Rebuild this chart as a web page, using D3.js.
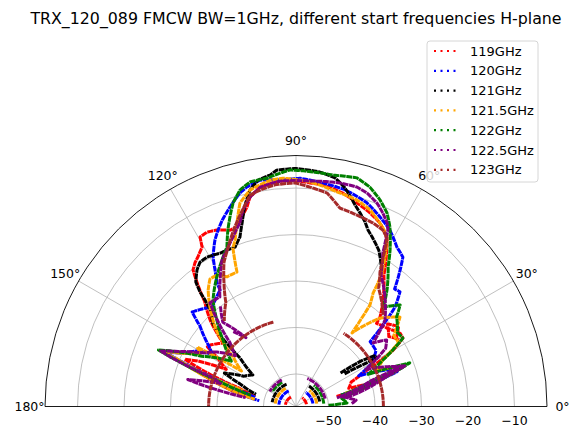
<!DOCTYPE html>
<html><head><meta charset="utf-8">
<script src="https://cdn.jsdelivr.net/npm/d3@7"></script>
<style>body{margin:0;background:#fff} svg{display:block} text{font-family:"DejaVu Sans",sans-serif;fill:#000}</style>
</head><body><svg id="c" width="569" height="427"></svg>
<script>
const chartTitle = "TRX_120_089 FMCW BW=1GHz, different start frequencies H-plane";
const seriesNames = ["119GHz","120GHz","121GHz","121.5GHz","122GHz","122.5GHz","123GHz"];
const seriesColors = ["#ff0000","#0000ff","#000000","#ffa500","#008000","#800080","#a52a2a"];
const angleTicks = [0,30,60,90,120,150,180];
const radialTicks = [-50,-40,-30,-20,-10];
const rDomain = [-57,-3];

// each series: list of segments of [angle deg, level dB]
const s119 = [
 [[14,-48],[15,-42],[17,-40],[19,-45],[24,-44],[27,-40],[30,-33],[32.6,-29.7],[35.1,-29.6],[40,-31],[45.9,-32.1],[46.8,-30.6],[56.2,-23],[61.3,-16.2],[62.8,-15.1],[65.4,-13.6],[69.1,-12.4],[73.3,-11.3],[77.6,-10.0],[83.0,-9.0],[86.4,-8.8],[91.5,-8.3],[95.3,-8.5],[99.3,-9.2],[102.4,-10.9],[103.8,-12.8],[105.9,-14.6],[108.2,-16.3],[110.5,-16.5],[114.1,-15.4],[117,-14.9],[119.5,-15.1],[120.5,-17.2],[123.2,-18.5],[125.1,-19.2],[127,-20.2],[127.9,-21.7],[131,-27],[135,-31],[139,-36.2],[144.4,-34.3],[146,-34],[148,-37],[152,-40],[155,-34],[157,-31],[159,-36],[162,-44],[166,-48]],
 [[34,-31],[38,-29],[42,-30.5],[37,-32],[33,-30.5]],
 [[160,-34],[164,-40],[169,-47]],
 [[12,-54.7],[55,-54.7]],
 [[118,-54.7],[170,-54.7]]
];
const s120 = [
 [[14,-47],[17,-40],[19,-34],[22,-36],[26,-42],[30,-38],[35,-36],[41.2,-35.8],[45.1,-26.8],[47.8,-23.7],[50,-24],[54.4,-17.5],[57.7,-16.4],[60.2,-15.0],[62,-14.0],[66.1,-12.4],[70.8,-10.6],[77.2,-9.2],[83.1,-8.6],[89,-7.9],[93.3,-8.2],[99,-7.7],[102.6,-8.6],[104.7,-9.5],[108.3,-11.8],[111.6,-13.9],[113.8,-15.5],[116,-17.2],[119,-20.2],[120.7,-22.9],[122.6,-25.5],[123.1,-27.1],[130,-29],[137.7,-26.8],[140,-30],[145,-34],[148.2,-36],[150,-33],[155,-30],[157.5,-26.5],[159,-32],[162,-42],[167,-48]],
 [[161,-36],[165,-42],[171,-49]],
 [[10,-53.3],[56,-53.3]],
 [[115,-53.3],[174,-53.3]]
];
const s121 = [
 [[57.6,-22.6],[62,-19],[67.8,-16.0],[69.5,-14.6],[73.7,-11.8],[77.4,-8.8],[80.3,-7.1],[84.2,-6.3],[90,-5.8],[94.7,-6.0],[96.4,-6.9],[99.5,-7.6],[102,-9.4],[104.2,-12.3],[106.4,-15.9],[108.3,-18.6],[110.9,-20.3],[116.3,-20.2],[120.8,-19.6],[123.6,-19.7],[125.9,-20.7],[128.8,-22.6],[130,-24.9],[130.5,-26.9],[132,-30],[134.8,-31.4],[137,-35],[139.1,-41.1],[143.8,-45.5],[150,-44],[155,-40],[158,-44],[163,-48]],
 [[37,-45],[35,-40],[33,-37],[31,-36.5],[32,-40],[34,-44.5]],
 [[12,-51.8],[58,-51.8]],
 [[113,-51.8],[170,-51.8]]
];
const s121_5 = [
 [[15,-46],[17,-40],[19,-35],[21,-33],[24,-38],[28,-36],[32,-31],[36,-31],[40.7,-27.5],[46.5,-30.8],[52.7,-37.1],[53.9,-30],[55.8,-27.5],[56.3,-25.6],[57.2,-22.8],[61.9,-15.4],[64,-14.3],[66.3,-13.2],[69.4,-11.8],[73.5,-10.7],[79.2,-10.0],[86.4,-8.6],[93.3,-7.8],[96.5,-8.0],[102,-9.4],[105.4,-11.6],[107.8,-15.5],[110.1,-18.9],[111.7,-20.3],[113.7,-25.4],[118,-25.4],[121,-24],[124,-23.9],[127,-25.6],[130,-28],[136,-33],[142,-40],[147,-43],[149,-32.2],[151,-33.5],[155,-30],[157.5,-26],[159.5,-33],[163,-45]],
 [[158,-29],[162,-37],[166,-43],[170,-48]],
 [[8,-52.5],[50,-52.5]],
 [[120,-52.5],[172,-52.5]]
];
const s122 = [
 [[2,-50],[4,-46],[10,-47],[17,-42],[20,-33],[21,-30.8],[22,-34],[24,-40],[28,-36],[32.6,-29.7],[36,-30],[41.7,-28],[44.3,-25.7],[48.8,-28.6],[50.1,-27.1],[52.0,-25.2],[56.6,-21.0],[59.0,-17.7],[62.4,-13.4],[64.8,-11.0],[67.9,-9.0],[71.4,-7.2],[75.1,-6.1],[80.9,-6.6],[85.9,-6.4],[91.5,-6.1],[97.2,-7.5],[101.6,-7.7],[104.5,-8.9],[107.2,-11.2],[109.2,-13.8],[111.1,-16.3],[113.4,-19.6],[116.8,-21.7],[123.7,-25.6],[128,-28],[132.5,-31.8],[138,-36],[145,-40],[152,-34],[157.7,-25],[159,-30],[162,-40],[166,-47]],
 [[12,-46],[18,-37],[20.5,-32],[19,-39],[14,-47]],
 [[6,-51],[50,-51]],
 [[120,-51],[148,-51]]
];
const s122_5 = [
 [[3,-45],[6,-44],[12,-47],[16,-42],[19,-35],[20.5,-32],[22,-34],[28,-40],[33,-34],[36.3,-32.8],[39.5,-35.5],[44.2,-30.3],[57.1,-23.3],[60.5,-19.1],[61.4,-17],[62.5,-14.2],[63.6,-12.9],[65.8,-11.4],[68.3,-9.9],[71.6,-8.6],[74.5,-8.0],[78.9,-8.0],[86.4,-8.4],[94.1,-8.4],[99.3,-9.2],[102.4,-10.9],[105.1,-13.2],[107,-15.7],[110.4,-18.1],[113.8,-20.2],[116.8,-21.7],[121,-25.3],[124.8,-28.3],[129.7,-28],[136,-37.3],[140,-40],[146,-36],[150,-34],[155,-29],[157.7,-25.5],[158.5,-28],[161,-38],[163,-40],[166,-33],[167,-36],[170,-46]],
 [[10,-46],[17,-38],[21,-33.5],[19,-40],[12,-48]],
 [[127,-30],[131,-33],[126,-38.7],[130,-36]],
 [[15,-50.5],[68,-50.5]],
 [[118,-50.5],[150,-50.5]]
];
const s123 = [
 [[46.4,-29.8],[55,-26],[58,-22.9],[59.1,-21],[60.4,-18.3],[61.6,-15.8],[63.8,-14.7],[67.2,-14.2],[72.3,-13.8],[77.5,-13.3],[81.7,-10.6],[86.4,-9.7],[90.3,-8.9],[95.4,-9.1],[99.4,-9.8],[102.3,-10.5],[104.2,-12.3],[106.3,-14.1],[109.9,-17.1],[113.2,-19.9],[116.5,-22.3],[120,-26],[124,-30],[130,-33]],
 [[0,-38.2],[57,-38.2]],
 [[105,-38.2],[180,-38.2]]
];
const allSeries = [s119, s120, s121, s121_5, s122, s122_5, s123];

const svg = d3.select("#c");
const cx = 296, cy = 406.5, R = 251;
const rScale = d3.scaleLinear().domain(rDomain).range([0, R]);
const aScale = d3.scaleLinear().domain([0, 180]).range([0, Math.PI]);
const px = (a, v) => cx + rScale(v) * Math.cos(aScale(a));
const py = (a, v) => cy - rScale(v) * Math.sin(aScale(a));

// grid circles
radialTicks.forEach(t => {
  const p = d3.path(); p.arc(cx, cy, rScale(t), Math.PI, 2 * Math.PI);
  svg.append("path").attr("d", p.toString()).attr("fill", "none").attr("stroke", "#b0b0b0").attr("stroke-width", 0.8);
});
// spokes
angleTicks.filter(a => a > 0 && a < 180).forEach(a => {
  svg.append("line").attr("x1", cx).attr("y1", cy)
    .attr("x2", px(a, rDomain[1])).attr("y2", py(a, rDomain[1]))
    .attr("stroke", "#b0b0b0").attr("stroke-width", 0.8);
});

// data
function densify(seg) {
  const out = [];
  for (let i = 0; i < seg.length - 1; i++) {
    const [a0, v0] = seg[i], [a1, v1] = seg[i + 1];
    const n = Math.max(1, Math.ceil(Math.abs(a1 - a0) / 0.5));
    for (let k = 0; k < n; k++) out.push([a0 + (a1 - a0) * k / n, v0 + (v1 - v0) * k / n]);
  }
  out.push(seg[seg.length - 1]);
  return out;
}
const line = d3.line().x(d => px(d[0], d[1])).y(d => py(d[0], d[1]));
allSeries.forEach((segs, i) => {
  segs.forEach(seg => {
    svg.append("path").attr("d", line(densify(seg)))
      .attr("fill", "none").attr("stroke", seriesColors[i])
      .attr("stroke-width", 3).attr("stroke-dasharray", "6,0.6")
      .attr("stroke-linejoin", "round");
  });
});

// spines
{
  const p = d3.path(); p.arc(cx, cy, R, Math.PI, 2 * Math.PI);
  svg.append("path").attr("d", p.toString()).attr("fill", "none").attr("stroke", "#000").attr("stroke-width", 0.9);
  svg.append("line").attr("x1", cx - R).attr("x2", cx + R).attr("y1", cy).attr("y2", cy)
    .attr("stroke", "#000").attr("stroke-width", 0.9);
}

// angle labels
angleTicks.forEach(a => {
  const rr = R + 15.5;
  svg.append("text").attr("x", cx + rr * Math.cos(aScale(a))).attr("y", cy - rr * Math.sin(aScale(a)))
    .attr("text-anchor", "middle").attr("dominant-baseline", "central")
    .attr("font-size", 12.5).text(a + "°");
});
// radial labels
radialTicks.forEach(t => {
  svg.append("text").attr("x", cx + rScale(t)).attr("y", 420)
    .attr("text-anchor", "middle").attr("dominant-baseline", "central")
    .attr("font-size", 12.5).text(d3.format("")(t).replace("-", "\u2212"));
});

// title
svg.append("text").attr("x", 296).attr("y", 18).attr("text-anchor", "middle")
  .attr("dominant-baseline", "central").attr("font-size", 15.8).text(chartTitle);

// legend
const lg = svg.append("g");
lg.append("rect").attr("x", 427).attr("y", 41).attr("width", 111).attr("height", 141)
  .attr("rx", 3).attr("fill", "#fff").attr("fill-opacity", 0.8).attr("stroke", "#cccccc").attr("stroke-width", 0.8);
seriesNames.forEach((n, i) => {
  const y = 51 + i * 19.8;
  lg.append("line").attr("x1", 434).attr("x2", 458).attr("y1", y).attr("y2", y)
    .attr("stroke", seriesColors[i]).attr("stroke-width", 2.2).attr("stroke-dasharray", "2,4.5");
  lg.append("text").attr("x", 470).attr("y", y).attr("dominant-baseline", "central")
    .attr("font-size", 13).text(n);
});
</script></body></html>
